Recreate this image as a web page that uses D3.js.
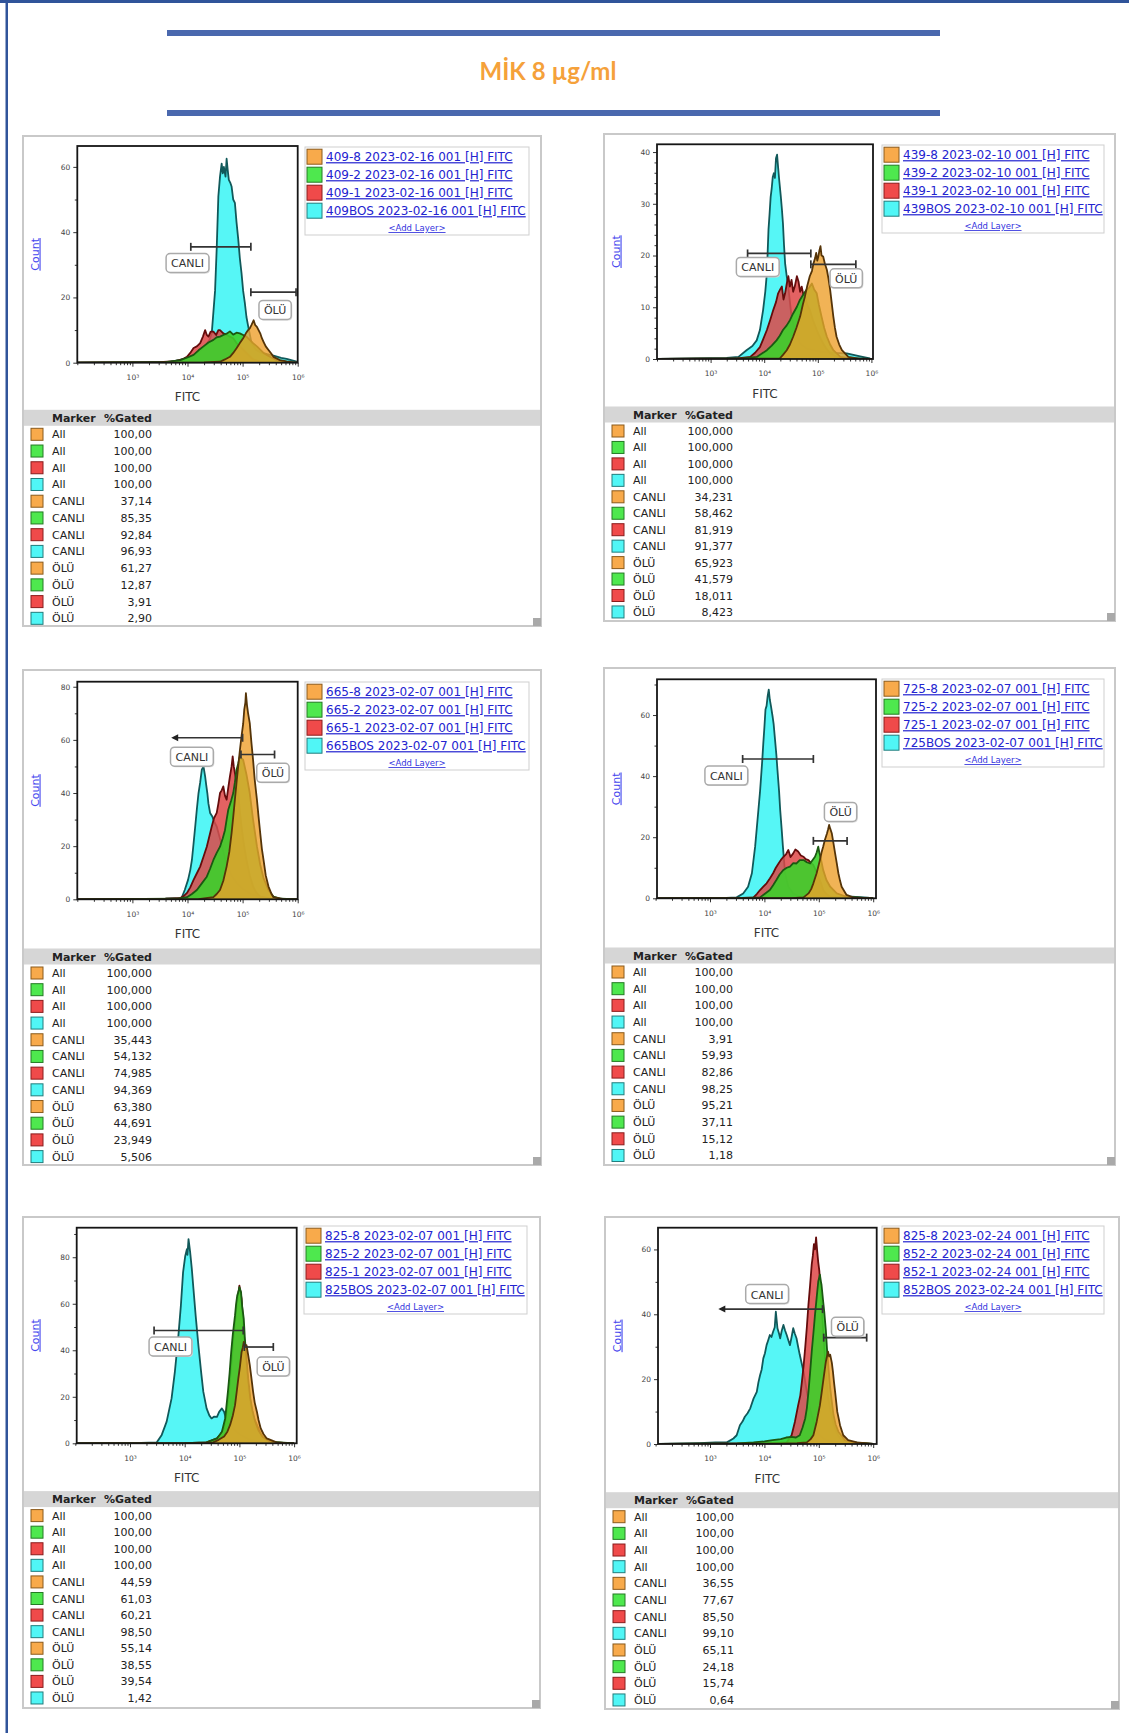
<!DOCTYPE html>
<html><head><meta charset="utf-8">
<script src="https://cdn.jsdelivr.net/npm/d3@7"></script>
<style>body{margin:0;background:#fff}svg{display:block}</style>
</head><body><svg id="c" width="1129" height="1733"></svg>
<script>
// ---------------- DATA ----------------
const titleText = "MİK 8 µg/ml";
const xTickValues = [1e3, 1e4, 1e5, 1e6];
const xTickLabels = ["10³", "10⁴", "10⁵", "10⁶"];
const markerNames = ["All", "CANLI", "ÖLÜ"];

// y axis (max, major step, minor step) per panel
const yMaxes = [66.4, 41.5, 81.9, 71.7, 92.7, 66.7];
const yMajorSteps = [20, 10, 20, 20, 20, 20];
const yMinorSteps = [10, 2, 10, 10, 10, 10];

// legend labels (order: -8, -2, -1, BOS)
const p1Legend = ["409-8 2023-02-16 001 [H] FITC", "409-2 2023-02-16 001 [H] FITC", "409-1 2023-02-16 001 [H] FITC", "409BOS 2023-02-16 001 [H] FITC"];
const p2Legend = ["439-8 2023-02-10 001 [H] FITC", "439-2 2023-02-10 001 [H] FITC", "439-1 2023-02-10 001 [H] FITC", "439BOS 2023-02-10 001 [H] FITC"];
const p3Legend = ["665-8 2023-02-07 001 [H] FITC", "665-2 2023-02-07 001 [H] FITC", "665-1 2023-02-07 001 [H] FITC", "665BOS 2023-02-07 001 [H] FITC"];
const p4Legend = ["725-8 2023-02-07 001 [H] FITC", "725-2 2023-02-07 001 [H] FITC", "725-1 2023-02-07 001 [H] FITC", "725BOS 2023-02-07 001 [H] FITC"];
const p5Legend = ["825-8 2023-02-07 001 [H] FITC", "825-2 2023-02-07 001 [H] FITC", "825-1 2023-02-07 001 [H] FITC", "825BOS 2023-02-07 001 [H] FITC"];
const p6Legend = ["825-8 2023-02-24 001 [H] FITC", "852-2 2023-02-24 001 [H] FITC", "852-1 2023-02-24 001 [H] FITC", "852BOS 2023-02-24 001 [H] FITC"];

// %Gated tables (order: -8, -2, -1, BOS)
const p1All = ["100,00", "100,00", "100,00", "100,00"];
const p1Canli = ["37,14", "85,35", "92,84", "96,93"];
const p1Olu = ["61,27", "12,87", "3,91", "2,90"];
const p2All = ["100,000", "100,000", "100,000", "100,000"];
const p2Canli = ["34,231", "58,462", "81,919", "91,377"];
const p2Olu = ["65,923", "41,579", "18,011", "8,423"];
const p3All = ["100,000", "100,000", "100,000", "100,000"];
const p3Canli = ["35,443", "54,132", "74,985", "94,369"];
const p3Olu = ["63,380", "44,691", "23,949", "5,506"];
const p4All = ["100,00", "100,00", "100,00", "100,00"];
const p4Canli = ["3,91", "59,93", "82,86", "98,25"];
const p4Olu = ["95,21", "37,11", "15,12", "1,18"];
const p5All = ["100,00", "100,00", "100,00", "100,00"];
const p5Canli = ["44,59", "61,03", "60,21", "98,50"];
const p5Olu = ["55,14", "38,55", "39,54", "1,42"];
const p6All = ["100,00", "100,00", "100,00", "100,00"];
const p6Canli = ["36,55", "77,67", "85,50", "99,10"];
const p6Olu = ["65,11", "24,18", "15,74", "0,64"];

// gates: from/to in log10(FITC), at = count; label position in same units
const p1Gates = [
  {name: "CANLI", from: 4.06, to: 5.15, at: 35.5, lx: 4.0, ly: 30.4, start: "bar"},
  {name: "ÖLÜ", from: 5.15, to: 5.97, at: 21.6, lx: 5.59, ly: 16.0, start: "bar"}];
const p2Gates = [
  {name: "CANLI", from: 3.69, to: 4.87, at: 20.4, lx: 3.88, ly: 17.7, start: "bar"},
  {name: "ÖLÜ", from: 4.87, to: 5.71, at: 18.3, lx: 5.53, ly: 15.5, start: "bar"}];
const p3Gates = [
  {name: "CANLI", from: 3.74, to: 5.0, at: 60.8, lx: 4.08, ly: 53.5, start: "arrow"},
  {name: "ÖLÜ", from: 4.97, to: 5.58, at: 54.5, lx: 5.55, ly: 47.4, start: "bar"}];
const p4Gates = [
  {name: "CANLI", from: 3.60, to: 4.90, at: 45.6, lx: 3.30, ly: 40.0, start: "bar"},
  {name: "ÖLÜ", from: 4.90, to: 5.52, at: 18.8, lx: 5.40, ly: 28.1, start: "bar"}];
const p5Gates = [
  {name: "CANLI", from: 3.44, to: 5.07, at: 48.5, lx: 3.74, ly: 41.4, start: "bar"},
  {name: "ÖLÜ", from: 5.09, to: 5.62, at: 41.4, lx: 5.62, ly: 32.8, start: "bar"}];
const p6Gates = [
  {name: "CANLI", from: 3.19, to: 5.07, at: 41.6, lx: 4.05, ly: 46.1, start: "arrow"},
  {name: "ÖLÜ", from: 5.09, to: 5.88, at: 32.8, lx: 5.53, ly: 36.0, start: "bar"}];

// histograms: [log10(FITC), count]
const p1Cyan = [[2,0],[3.0,0.2],[3.7,0.3],[3.85,0.8],[4.0,1.5],[4.12,2.5],[4.22,3.5],[4.32,5],[4.4,7],[4.44,9],[4.50,22],[4.53,35],[4.56,51],[4.59,57],[4.62,61],[4.64,58],[4.66,60],[4.69,57],[4.71,62.5],[4.73,59],[4.75,56],[4.78,55],[4.80,54],[4.83,50],[4.86,49],[4.89,43],[4.92,38],[4.95,32],[4.98,27.5],[5.01,22],[5.04,18.4],[5.07,14],[5.10,11.3],[5.16,6.2],[5.24,4],[5.32,3.2],[5.45,2.6],[5.56,2.2],[5.70,1.5],[5.80,1.2],[5.98,0.3],[6,0]];
const p1Red = [[2,0],[3.5,0.2],[3.77,0.5],[3.9,1],[3.99,1.8],[4.05,3],[4.11,4.5],[4.17,5],[4.23,6],[4.28,8],[4.32,10],[4.35,8.5],[4.38,8],[4.42,9.5],[4.47,9.5],[4.52,8.5],[4.56,10],[4.59,10],[4.65,9],[4.71,8.5],[4.77,8],[4.83,7.5],[4.89,6],[4.95,5],[5.01,4],[5.07,3],[5.13,2],[5.19,1],[5.32,0.3],[5.6,0.1],[6,0]];
const p1Green = [[2,0],[3.6,0.2],[3.87,0.8],[4.0,1.6],[4.11,2.4],[4.2,3.8],[4.29,5],[4.38,6.2],[4.47,7],[4.53,7.8],[4.59,8],[4.65,8.5],[4.71,8.9],[4.77,9.6],[4.83,8.6],[4.89,9.2],[4.95,9],[5.01,8.5],[5.07,8],[5.13,7],[5.19,6],[5.26,5],[5.32,4],[5.38,3],[5.44,2.4],[5.53,1.5],[5.62,0.8],[5.80,0.1],[6,0]];
const p1Orange = [[2,0],[4.3,0.1],[4.59,0.3],[4.68,1],[4.77,1.8],[4.83,3],[4.89,4.4],[4.95,6],[5.01,7.5],[5.06,9],[5.10,10],[5.13,10.5],[5.16,11.5],[5.20,13],[5.23,11.5],[5.26,11],[5.29,10],[5.32,9],[5.35,7.5],[5.38,6.4],[5.42,5],[5.47,3.9],[5.52,2.8],[5.56,1.8],[5.68,0.8],[5.80,0.4],[5.92,0.1],[6,0]];

const p2Cyan = [[2,0],[3.3,0.2],[3.52,0.4],[3.67,1.7],[3.78,2.5],[3.86,3.6],[3.92,5.6],[3.98,9.5],[4.02,13],[4.05,16.6],[4.08,25],[4.10,28],[4.12,31.3],[4.14,33],[4.16,35.2],[4.18,35.9],[4.20,35],[4.22,38.8],[4.24,39.5],[4.26,37],[4.28,34.6],[4.31,31.4],[4.33,29],[4.35,26.2],[4.37,22],[4.39,18.5],[4.42,16],[4.45,14],[4.48,11],[4.51,8.2],[4.57,5.6],[4.67,3],[4.8,2],[5.0,1.5],[5.3,1.2],[5.54,1.1],[5.79,0.5],[5.97,0.1],[6,0]];
const p2Red = [[2,0],[3.5,0.1],[3.74,0.4],[3.83,1.2],[3.92,2.3],[3.98,3.8],[4.05,5.6],[4.11,7.5],[4.17,9.5],[4.22,11],[4.26,12.7],[4.30,13.5],[4.33,14],[4.36,11.5],[4.39,12.7],[4.42,14.5],[4.45,16],[4.48,14],[4.51,15.3],[4.54,13],[4.57,14],[4.61,16],[4.64,15],[4.67,13],[4.70,14],[4.73,12.5],[4.76,12.1],[4.80,10.5],[4.85,9.5],[4.91,7.5],[4.98,5.6],[5.04,4.2],[5.10,3],[5.16,2],[5.23,1.1],[5.42,0.1],[6,0]];
const p2Green = [[2,0],[3.6,0.1],[3.86,0.4],[3.95,1],[4.05,1.7],[4.14,2.6],[4.23,3.6],[4.29,4.5],[4.35,5.6],[4.42,6.5],[4.48,7.5],[4.54,8.8],[4.61,10.1],[4.66,11.3],[4.70,12],[4.75,12.8],[4.79,13.4],[4.84,13.8],[4.89,14.6],[4.93,13.5],[4.98,12.7],[5.02,10.5],[5.07,8.2],[5.12,6],[5.17,4.3],[5.23,2.8],[5.29,1.7],[5.42,0.4],[5.6,0.1],[6,0]];
const p2Orange = [[2,0],[4.1,0.05],[4.29,0.1],[4.35,0.8],[4.42,1.7],[4.48,2.8],[4.54,4.3],[4.60,6],[4.67,8.2],[4.72,10.5],[4.76,12.1],[4.80,14],[4.85,16],[4.89,17],[4.92,18.5],[4.95,19.5],[4.97,20.5],[4.99,19],[5.01,19.8],[5.03,21],[5.05,21.8],[5.07,20],[5.10,19.8],[5.13,18.5],[5.17,17.2],[5.20,15.5],[5.23,13.4],[5.26,10.8],[5.29,8.2],[5.32,6],[5.35,4.3],[5.40,2.8],[5.45,1.7],[5.57,0.4],[5.79,0],[6,0]];

const p3Cyan = [[2,0],[3.6,0.2],[3.89,0.4],[3.95,3.5],[4.01,7.3],[4.05,11],[4.08,14.8],[4.11,21],[4.14,27.4],[4.17,34],[4.20,40],[4.23,44],[4.26,48.8],[4.29,50],[4.32,46.3],[4.34,43],[4.36,40],[4.38,36],[4.41,32.5],[4.45,31.2],[4.49,29],[4.53,27.4],[4.6,22],[4.7,14],[4.8,9],[4.9,6],[5.0,4],[5.15,2],[5.3,1],[5.5,0.3],[6,0]];
const p3Red = [[2,0],[3.6,0.2],[3.86,0.4],[3.93,1.2],[3.99,2.4],[4.05,4.5],[4.11,7.3],[4.17,9.8],[4.23,12.3],[4.29,16],[4.35,19.8],[4.40,24],[4.44,27.4],[4.48,30.5],[4.53,32.5],[4.56,36],[4.59,40],[4.62,41],[4.65,42.5],[4.68,39],[4.71,37.5],[4.74,42],[4.77,46.3],[4.80,50],[4.82,53.8],[4.84,50],[4.86,47.6],[4.89,44],[4.92,40],[4.95,33],[4.98,27.4],[5.02,21],[5.07,14.8],[5.13,9],[5.19,4.8],[5.25,2.5],[5.32,1],[5.5,0.2],[6,0]];
const p3Green = [[2,0],[3.8,0.2],[3.99,0.8],[4.08,2],[4.17,3.5],[4.26,6],[4.35,8.5],[4.41,11.5],[4.47,14.8],[4.53,17.5],[4.59,19.8],[4.64,23],[4.68,26],[4.71,30],[4.74,33.7],[4.79,37],[4.83,40],[4.86,44],[4.89,48.8],[4.92,51],[4.95,53.8],[4.98,53],[5.01,52.5],[5.07,47],[5.13,40],[5.19,30],[5.26,20],[5.32,13],[5.38,8],[5.47,3.5],[5.56,1],[5.7,0.2],[6,0]];
const p3Orange = [[2,0],[4.2,0.1],[4.47,0.8],[4.53,2],[4.59,3.5],[4.65,7],[4.71,12.3],[4.76,18],[4.80,24.9],[4.83,31],[4.86,37.5],[4.89,44],[4.92,50],[4.95,56],[4.98,61.3],[5.01,66],[5.03,71.4],[5.05,74],[5.06,77.6],[5.08,73],[5.10,70],[5.13,66.3],[5.16,59],[5.19,52.5],[5.22,45],[5.26,37.5],[5.29,31],[5.32,24.9],[5.35,19],[5.38,14.8],[5.42,9],[5.47,4.8],[5.52,2.2],[5.56,0.8],[5.74,0.1],[6,0]];

const p4Cyan = [[2,0],[3.3,0.1],[3.49,0.3],[3.61,1.6],[3.70,3.8],[3.77,8.2],[3.83,17],[3.86,23],[3.89,29],[3.92,35],[3.94,40],[3.96,45],[3.98,50.8],[4.00,56],[4.02,61.8],[4.04,63],[4.06,66.2],[4.08,68.3],[4.10,65],[4.12,63],[4.15,59.6],[4.17,57],[4.19,53],[4.22,47],[4.24,42],[4.27,35],[4.29,29],[4.32,22],[4.34,17],[4.38,8.2],[4.44,3.8],[4.53,1.6],[4.65,0.5],[5.0,0.3],[5.6,0.5],[5.9,0.2],[6,0]];
const p4Red = [[2,0],[3.6,0.1],[3.80,0.3],[3.86,1.4],[3.92,2.7],[3.98,3.8],[4.04,4.9],[4.10,6.5],[4.16,8.2],[4.21,10],[4.26,11.4],[4.30,12.5],[4.35,13.6],[4.40,14.5],[4.44,15.8],[4.48,13.5],[4.53,14.7],[4.57,16],[4.62,15.3],[4.67,14],[4.72,13.6],[4.76,12.8],[4.81,12.5],[4.86,11.5],[4.90,10.9],[4.95,9],[4.99,7.1],[5.04,5],[5.08,2.7],[5.14,1.4],[5.21,0.5],[5.4,0.1],[6,0]];
const p4Green = [[2,0],[3.7,0.1],[3.92,0.3],[4.01,1.5],[4.10,2.7],[4.16,4.3],[4.22,6],[4.28,7.8],[4.35,9.3],[4.41,10],[4.47,10.4],[4.53,11.5],[4.59,11.4],[4.65,12.5],[4.72,12.5],[4.78,11.8],[4.84,11.4],[4.89,12.6],[4.93,13.6],[4.96,15],[4.99,16.9],[5.01,15],[5.03,13.6],[5.08,9.3],[5.14,6],[5.21,3.8],[5.33,1.6],[5.51,0.5],[5.76,0.2],[6,0]];
const p4Orange = [[2,0],[4.5,0.05],[4.72,0.3],[4.81,1.6],[4.86,3],[4.90,4.9],[4.96,8.2],[5.02,12.5],[5.05,15],[5.08,16.9],[5.11,19],[5.15,21.2],[5.17,22.5],[5.19,24],[5.21,22.8],[5.24,21.2],[5.27,18],[5.30,14.7],[5.33,11.5],[5.36,8.2],[5.39,5.8],[5.42,3.8],[5.51,1.1],[5.63,0.3],[5.8,0.1],[6,0]];

const p5Cyan = [[2,0],[3.2,0.2],[3.49,0.4],[3.58,3.6],[3.67,9.3],[3.76,19.3],[3.82,30.7],[3.88,45],[3.93,59.2],[3.97,73.5],[4.01,80.6],[4.04,83.5],[4.05,81],[4.07,87.8],[4.09,84],[4.10,82.1],[4.13,75],[4.16,66.4],[4.20,55],[4.25,42.2],[4.30,30.7],[4.34,22.2],[4.40,15],[4.45,12],[4.49,10.7],[4.54,11.5],[4.59,11.4],[4.63,13.5],[4.68,15],[4.72,13.6],[4.77,9.3],[4.82,7.9],[4.9,6],[5.0,4],[5.15,2],[5.3,1],[5.5,0.3],[6,0]];
const p5Red = [[2,0],[4.0,0.1],[4.40,0.4],[4.59,2.1],[4.66,4],[4.72,6.4],[4.77,13.6],[4.80,20],[4.83,27.8],[4.86,36],[4.89,45],[4.92,52],[4.95,59.2],[4.98,64],[5.00,67.8],[5.02,65],[5.04,62.1],[5.06,55],[5.08,47.8],[5.11,39],[5.14,30.7],[5.17,23],[5.21,16.4],[5.26,11],[5.32,7.9],[5.38,4.5],[5.44,2.1],[5.62,0.4],[6,0]];
const p5Green = [[2,0],[4.0,0.1],[4.40,0.4],[4.59,2.1],[4.68,5],[4.74,10.7],[4.79,22.2],[4.82,30],[4.85,39.3],[4.88,47],[4.92,55],[4.94,60],[4.96,63.5],[4.98,65],[5.00,67.1],[5.03,65],[5.05,59],[5.08,53.5],[5.10,45],[5.13,36.4],[5.16,28],[5.20,19.3],[5.24,14],[5.29,9.3],[5.35,5.5],[5.42,2.9],[5.56,0.7],[6,0]];
const p5Orange = [[2,0],[4.2,0.1],[4.52,0.4],[4.62,1.5],[4.72,2.9],[4.78,5],[4.83,7.9],[4.88,12],[4.92,16.4],[4.95,22],[4.98,27.8],[5.01,33],[5.04,39.3],[5.06,41],[5.08,43.6],[5.10,42],[5.13,42.2],[5.16,38],[5.19,33.6],[5.22,28],[5.25,22.2],[5.28,17.5],[5.32,13.6],[5.35,10],[5.39,6.4],[5.44,4],[5.50,2.1],[5.68,0.4],[5.86,0.1],[6,0]];

const p6Cyan = [[2,0],[2.8,0.3],[3.1,0.5],[3.31,0.5],[3.43,1.7],[3.49,2.7],[3.55,5.8],[3.60,7],[3.64,8.4],[3.69,9.5],[3.74,11],[3.80,14],[3.86,16.1],[3.89,19],[3.92,21.2],[3.95,23],[3.98,26.4],[4.01,28],[4.04,30.5],[4.07,32],[4.10,33.6],[4.13,33],[4.16,34.6],[4.19,36],[4.21,40.8],[4.24,35.7],[4.27,34],[4.29,32.6],[4.32,35],[4.35,36.7],[4.38,35],[4.41,33.6],[4.44,32],[4.47,30.5],[4.50,33],[4.53,35.7],[4.56,34],[4.59,32.6],[4.62,30],[4.65,27.5],[4.72,22.3],[4.78,16.1],[4.85,10],[4.92,6],[5.0,3],[5.1,1.5],[5.2,1],[5.5,0.3],[6,0]];
const p6Red = [[2,0],[4.0,0.2],[4.41,0.5],[4.50,2.7],[4.56,6.8],[4.62,11.9],[4.66,15],[4.69,19.3],[4.72,24],[4.75,29.7],[4.78,36],[4.81,43.1],[4.84,49],[4.87,55.4],[4.89,58],[4.91,61.6],[4.93,60],[4.95,63.7],[4.97,59.6],[4.99,56],[5.01,53.4],[5.03,48],[5.05,43.1],[5.08,35],[5.11,27.7],[5.14,20],[5.17,14.4],[5.22,10],[5.27,6.2],[5.33,3.5],[5.39,1.7],[5.51,0.5],[6,0]];
const p6Green = [[2,0],[3.5,0.2],[3.8,0.5],[4.0,0.8],[4.15,1.2],[4.3,1.5],[4.4,2],[4.5,2.2],[4.58,2],[4.65,2.7],[4.70,5],[4.75,7.9],[4.78,11],[4.81,16.1],[4.84,22],[4.87,28.5],[4.90,34],[4.93,39.8],[4.96,45],[4.99,50.1],[5.02,52.2],[5.04,50],[5.05,49.1],[5.08,44],[5.10,40.8],[5.13,35],[5.15,29.5],[5.18,23],[5.21,17.2],[5.24,13],[5.27,9],[5.31,6],[5.36,3.8],[5.48,1.2],[5.63,0.5],[6,0]];
const p6Orange = [[2,0],[4.3,0.1],[4.6,0.3],[4.78,0.5],[4.85,1.5],[4.90,2.7],[4.96,6.8],[5.02,11.9],[5.05,15.5],[5.08,19.3],[5.11,23],[5.13,25.4],[5.15,27],[5.17,28.5],[5.19,27],[5.21,27.5],[5.24,25],[5.26,22.3],[5.28,19],[5.30,16.1],[5.32,13],[5.34,9.9],[5.37,7.5],[5.39,5.8],[5.45,2.7],[5.54,1.2],[5.70,0.5],[5.94,0.1],[6,0]];

// ---------------- LAYOUT ----------------
const layout = [
  {fx:23, fy:136, fw:518, fh:490, xs0:77.3, xs1:297.7, px0:77.3, px1:297.7, py0:146, py1:362.7, lx:305, ly:147, lw:224, row0:434.3, step:16.73},
  {fx:604, fy:134, fw:511, fh:487, xs0:657, xs1:871.4, px0:657, px1:873, py0:144.3, py1:359, lx:882, ly:145, lw:222, row0:431, step:16.45},
  {fx:23, fy:670, fw:518, fh:495, xs0:77.3, xs1:297.7, px0:77.3, px1:297.7, py0:681.7, py1:899.3, lx:305, ly:682, lw:224, row0:973, step:16.69},
  {fx:604, fy:668, fw:511, fh:497, xs0:655.6, xs1:873.2, px0:657, px1:876, py0:679.3, py1:898.3, lx:882, ly:679, lw:222, row0:972, step:16.68},
  {fx:23, fy:1217, fw:517, fh:491, xs0:75.3, xs1:294.1, px0:76.7, px1:296.7, py0:1227.7, py1:1443.3, lx:304, ly:1226, lw:223, row0:1515.6, step:16.58},
  {fx:605, fy:1217, fw:514, fh:492, xs0:655.6, xs1:873.2, px0:658, px1:876.7, py0:1227.7, py1:1444, lx:882, ly:1226, lw:222, row0:1516.7, step:16.66}
];

const panelSeries = [
  [p1Cyan, p1Red, p1Green, p1Orange], [p2Cyan, p2Red, p2Green, p2Orange],
  [p3Cyan, p3Red, p3Green, p3Orange], [p4Cyan, p4Red, p4Green, p4Orange],
  [p5Cyan, p5Red, p5Green, p5Orange], [p6Cyan, p6Red, p6Green, p6Orange]];
const panelLegends = [p1Legend, p2Legend, p3Legend, p4Legend, p5Legend, p6Legend];
const panelTables = [[p1All,p1Canli,p1Olu],[p2All,p2Canli,p2Olu],[p3All,p3Canli,p3Olu],[p4All,p4Canli,p4Olu],[p5All,p5Canli,p5Olu],[p6All,p6Canli,p6Olu]];
const panelGates = [p1Gates, p2Gates, p3Gates, p4Gates, p5Gates, p6Gates];

// drawing order: cyan, red, green, orange
const seriesStyle = [
  {fill:'#56f6f6', op:1, stroke:'#11595a'},
  {fill:'#de4646', op:0.85, stroke:'#650c0c'},
  {fill:'#3cd02b', op:0.9, stroke:'#1a5911'},
  {fill:'#eea02c', op:0.8, stroke:'#553408'}];
// legend/table order: orange, green, red, cyan
const swatch = [
  {fill:'#f8aa4b', stroke:'#8a5a1c'},
  {fill:'#4ee84e', stroke:'#247a24'},
  {fill:'#f04a4a', stroke:'#8a1c1c'},
  {fill:'#50f6f6', stroke:'#227c7c'}];

const FONT = "'DejaVu Sans', Verdana, sans-serif";
const svg = d3.select('#c');
svg.append('rect').attr('width',1129).attr('height',1733).attr('fill','#fff');

// outer page border
svg.append('rect').attr('x',5.5).attr('y',0).attr('width',2.5).attr('height',1733).attr('fill','#30549a');
svg.append('rect').attr('x',0).attr('y',0).attr('width',1129).attr('height',3).attr('fill','#30549a');

// title block
svg.append('rect').attr('x',167).attr('y',30).attr('width',773).attr('height',6).attr('fill','#4a68ae');
svg.append('rect').attr('x',167).attr('y',110).attr('width',773).attr('height',6).attr('fill','#4a68ae');
svg.append('text').attr('x',548).attr('y',80).attr('text-anchor','middle')
  .attr('font-family',"Lato, 'Open Sans', sans-serif").attr('font-weight','bold').attr('font-size',24)
  .attr('fill','#f5a13a').text(titleText);

layout.forEach((L, i) => {
  const g = svg.append('g');
  // frame
  g.append('rect').attr('x',L.fx).attr('y',L.fy).attr('width',L.fw).attr('height',L.fh)
    .attr('fill','#fff').attr('stroke','#c9c9c9').attr('stroke-width',2);
  g.append('rect').attr('x',L.fx+L.fw-8).attr('y',L.fy+L.fh-8).attr('width',8).attr('height',8).attr('fill','#a9a9a9');

  const x = d3.scaleLog().domain([1e2,1e6]).range([L.xs0, L.xs1]);
  const y = d3.scaleLinear().domain([0, yMaxes[i]]).range([L.py1, L.py0]);

  const clipId = 'clip' + i;
  g.append('clipPath').attr('id', clipId).append('rect')
    .attr('x', L.px0).attr('y', L.py0).attr('width', L.px1-L.px0).attr('height', L.py1-L.py0);
  const hg = g.append('g').attr('clip-path', `url(#${clipId})`);
  const area = d3.area().x(d => x(Math.pow(10,d[0]))).y0(y(0)).y1(d => y(d[1]));
  const line = d3.line().x(d => x(Math.pow(10,d[0]))).y(d => y(d[1]));
  panelSeries[i].forEach((s, k) => {
    const st = seriesStyle[k];
    hg.append('path').datum(s).attr('d', area).attr('fill', st.fill).attr('fill-opacity', st.op);
    hg.append('path').datum(s).attr('d', line).attr('fill','none').attr('stroke', st.stroke)
      .attr('stroke-width',1.8).attr('stroke-linejoin','round');
  });

  // axes
  const minorX = x.ticks().filter(v => xTickValues.indexOf(v) < 0);
  g.append('g').attr('transform',`translate(0,${L.py1})`)
    .call(d3.axisBottom(x).tickValues(minorX).tickSize(2.5).tickFormat(''))
    .call(a => a.select('.domain').remove()).selectAll('line').attr('stroke','#333');
  const xa = g.append('g').attr('transform',`translate(0,${L.py1})`)
    .call(d3.axisBottom(x).tickValues(xTickValues).tickSize(4).tickPadding(8)
      .tickFormat((d, j) => xTickLabels[j]));
  xa.select('.domain').remove();
  xa.selectAll('line').attr('stroke','#333');
  xa.selectAll('text').attr('font-family',FONT).attr('font-size',7.5).attr('fill','#444');

  const ymax = yMaxes[i];
  const majorY = d3.range(0, ymax + 0.001, yMajorSteps[i]);
  const minorY = d3.range(0, ymax + 0.001, yMinorSteps[i]).filter(v => majorY.indexOf(v) < 0);
  g.append('g').attr('transform',`translate(${L.px0},0)`)
    .call(d3.axisLeft(y).tickValues(minorY).tickSize(2.5).tickFormat(''))
    .call(a => a.select('.domain').remove()).selectAll('line').attr('stroke','#333');
  const ya = g.append('g').attr('transform',`translate(${L.px0},0)`)
    .call(d3.axisLeft(y).tickValues(majorY).tickSize(4).tickPadding(3));
  ya.select('.domain').remove();
  ya.selectAll('line').attr('stroke','#333');
  ya.selectAll('text').attr('font-family',FONT).attr('font-size',7.5).attr('fill','#444');

  // plot frame
  g.append('rect').attr('x',L.px0).attr('y',L.py0).attr('width',L.px1-L.px0).attr('height',L.py1-L.py0)
    .attr('fill','none').attr('stroke','#151515').attr('stroke-width',1.8);

  // axis titles
  g.append('text').attr('transform',`translate(${L.fx+15.5},${(L.py0+L.py1)/2}) rotate(-90)`)
    .attr('text-anchor','middle').attr('font-family',FONT).attr('font-size',11)
    .attr('fill','#4646ee').attr('text-decoration','underline').text('Count');
  g.append('text').attr('x',(L.px0+L.px1)/2).attr('y',L.py1+38.5).attr('text-anchor','middle')
    .attr('font-family',FONT).attr('font-size',12).attr('fill','#333').text('FITC');

  // gates
  panelGates[i].forEach(gt => {
    const gx0 = x(Math.pow(10, gt.from)), gx1 = x(Math.pow(10, gt.to)), gy = y(gt.at);
    g.append('line').attr('x1',gx0).attr('x2',gx1).attr('y1',gy).attr('y2',gy)
      .attr('stroke','#333').attr('stroke-width',1.7);
    g.append('line').attr('x1',gx1).attr('x2',gx1).attr('y1',gy-4).attr('y2',gy+4)
      .attr('stroke','#333').attr('stroke-width',1.7);
    if (gt.start === 'arrow') {
      g.append('path').attr('d',`M${gx0-2},${gy} L${gx0+5},${gy-3.5} L${gx0+5},${gy+3.5} Z`).attr('fill','#222');
    } else {
      g.append('line').attr('x1',gx0).attr('x2',gx0).attr('y1',gy-4).attr('y2',gy+4)
        .attr('stroke','#333').attr('stroke-width',1.7);
    }
    const cx = x(Math.pow(10, gt.lx)), cy = y(gt.ly);
    const lg = g.append('g');
    const t = lg.append('text').attr('x',cx).attr('y',cy+4).attr('text-anchor','middle')
      .attr('font-family',FONT).attr('font-size',11).attr('fill','#333').text(gt.name);
    const w = t.node().getComputedTextLength() + 10;
    lg.insert('rect','text').attr('x',cx-w/2+1).attr('y',cy-9).attr('width',w).attr('height',19)
      .attr('rx',4).attr('fill','#d8d8d8');
    lg.insert('rect','text').attr('x',cx-w/2).attr('y',cy-10).attr('width',w).attr('height',19)
      .attr('rx',4).attr('fill','#fff').attr('stroke','#aaa').attr('stroke-width',1.5);
  });

  // legend
  g.append('rect').attr('x',L.lx).attr('y',L.ly).attr('width',L.lw).attr('height',88)
    .attr('fill','#fff').attr('stroke','#cfcfcf').attr('stroke-width',1);
  panelLegends[i].forEach((name, k) => {
    const cy = L.ly + 9.7 + k * 18;
    g.append('rect').attr('x',L.lx+2).attr('y',cy-7.5).attr('width',15).attr('height',15)
      .attr('fill',swatch[k].fill).attr('stroke',swatch[k].stroke).attr('stroke-width',1);
    g.append('text').attr('x',L.lx+21).attr('y',cy+4.5).attr('font-family',FONT).attr('font-size',12)
      .attr('fill','#2323d0').attr('text-decoration','underline').text(name);
  });
  g.append('text').attr('x',L.lx+L.lw/2).attr('y',L.ly+84).attr('text-anchor','middle')
    .attr('font-family',FONT).attr('font-size',8.5).attr('fill','#3333dd')
    .attr('text-decoration','underline').text('<Add Layer>');

  // table
  const hy = L.row0 - 16.5;
  g.append('rect').attr('x',L.fx+1).attr('y',hy-8).attr('width',L.fw-2).attr('height',16).attr('fill','#d6d6d6');
  g.append('text').attr('x',L.fx+29).attr('y',hy+4).attr('font-family',FONT).attr('font-size',11)
    .attr('font-weight','bold').attr('fill','#222').text('Marker');
  g.append('text').attr('x',L.fx+129).attr('y',hy+4).attr('text-anchor','end').attr('font-family',FONT)
    .attr('font-size',11).attr('font-weight','bold').attr('fill','#222').text('%Gated');
  panelTables[i].forEach((vals, m) => {
    vals.forEach((v, k) => {
      const r = m * 4 + k;
      const cy = L.row0 + r * L.step;
      g.append('rect').attr('x',L.fx+8).attr('y',cy-6).attr('width',12).attr('height',12)
        .attr('fill',swatch[k].fill).attr('stroke',swatch[k].stroke).attr('stroke-width',1);
      g.append('text').attr('x',L.fx+29).attr('y',cy+4).attr('font-family',FONT).attr('font-size',11)
        .attr('fill','#222').text(markerNames[m]);
      g.append('text').attr('x',L.fx+129).attr('y',cy+4).attr('text-anchor','end').attr('font-family',FONT)
        .attr('font-size',11).attr('fill','#222').text(v);
    });
  });
});
</script></body></html>
